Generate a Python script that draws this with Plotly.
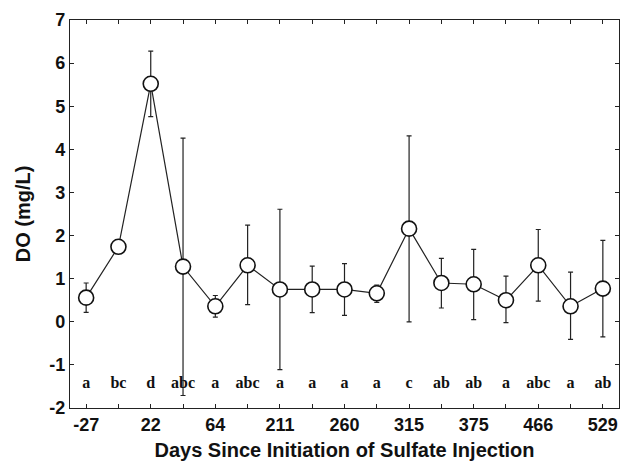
import plotly.graph_objects as go

positions = list(range(1, 18))
day_labels = ["-27", "", "22", "", "64", "", "211", "", "260", "", "315", "", "375", "", "466", "", "529"]
do_mean = [0.56, 1.74, 5.52, 1.28, 0.36, 1.31, 0.75, 0.75, 0.75, 0.66, 2.16, 0.90, 0.87, 0.50, 1.31, 0.36, 0.77]
do_upper = [0.90, 1.74, 6.28, 4.26, 0.61, 2.24, 2.61, 1.29, 1.35, 0.85, 4.31, 1.47, 1.68, 1.06, 2.14, 1.15, 1.89]
do_lower = [0.22, 1.74, 4.76, -1.71, 0.11, 0.40, -1.11, 0.21, 0.15, 0.45, 0.00, 0.32, 0.05, -0.02, 0.48, -0.41, -0.35]
groups = ["a", "bc", "d", "abc", "a", "abc", "a", "a", "a", "a", "c", "ab", "ab", "a", "abc", "a", "ab"]
letter_y = -1.45

err_plus = [u - m for u, m in zip(do_upper, do_mean)]
err_minus = [m - l for m, l in zip(do_mean, do_lower)]

fig = go.Figure()
fig.add_trace(go.Scatter(
    x=positions, y=do_mean, mode="lines+markers",
    line=dict(color="#222", width=1.2),
    marker=dict(symbol="circle", size=15, color="white", line=dict(color="#111", width=1.6)),
    error_y=dict(type="data", symmetric=False, array=err_plus, arrayminus=err_minus,
                 color="#222", thickness=1.2, width=2.5),
    showlegend=False,
))
fig.add_trace(go.Scatter(
    x=positions, y=[letter_y] * len(positions), mode="text",
    text=[f"<b>{g}</b>" for g in groups],
    textfont=dict(family="Liberation Serif", size=16, color="#111"),
    textposition="middle center", showlegend=False,
))

axis_common = dict(showline=True, linecolor="#222", linewidth=1.2, mirror="ticks",
                   ticks="inside", ticklen=4, tickcolor="#222", tickwidth=1,
                   showgrid=False, zeroline=False)
fig.update_xaxes(range=[0.5, 17.5], tickvals=positions,
                 ticktext=[f"<b>{t}</b>" if t else "" for t in day_labels],
                 tickfont=dict(family="Liberation Sans", size=18, color="#111"),
                 title=dict(text="<b>Days Since Initiation of Sulfate Injection</b>",
                            font=dict(family="Liberation Sans", size=20, color="#111"), standoff=9),
                 **axis_common)
fig.update_yaxes(range=[-2, 7], tickvals=list(range(-2, 8)),
                 ticktext=[f"<b>{v}</b>" for v in range(-2, 8)],
                 tickfont=dict(family="Liberation Sans", size=18, color="#111"),
                 title=dict(text="<b>DO (mg/L)</b>",
                            font=dict(family="Liberation Sans", size=20, color="#111"), standoff=13),
                 **axis_common)
fig.update_layout(width=620, height=462, margin=dict(l=70, r=1, t=20, b=54),
                  plot_bgcolor="white", paper_bgcolor="white")
fig.write_html("out.html")
